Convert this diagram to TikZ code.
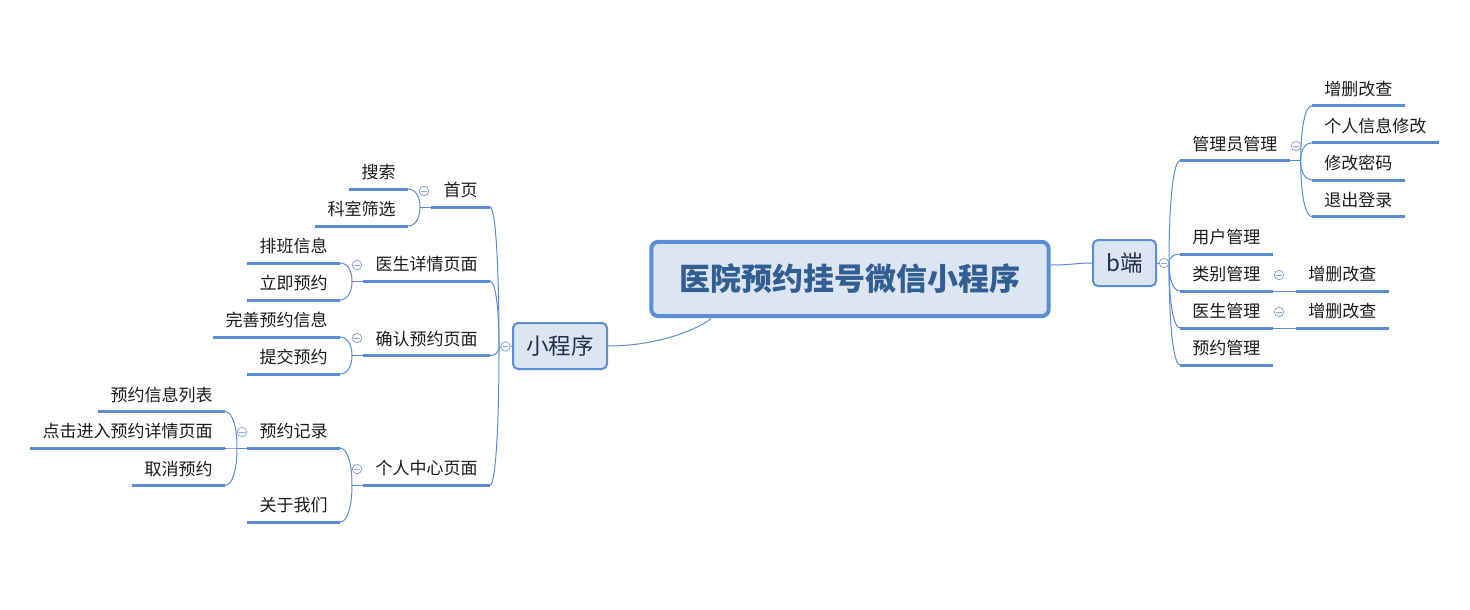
\documentclass[tikz,border=0pt]{standalone}
\usepackage{fontspec}
\setmainfont{Noto Sans CJK SC}
\usetikzlibrary{calc}
\definecolor{lineblue}{HTML}{5A8CD5}
\definecolor{boxfill}{HTML}{DCE6F2}
\definecolor{boxline}{HTML}{5B8ED3}
\definecolor{maintext}{HTML}{335E92}
\definecolor{subtext}{HTML}{1F2D45}
\definecolor{togc}{HTML}{8BA7D6}
\definecolor{topictext}{HTML}{1A1A1A}
\tikzset{
  topic/.style={font=\fontsize{17}{19}\selectfont, text=topictext, inner xsep=12.2pt, inner ysep=0pt, text height=14.5pt, text depth=10.3pt},
  uline/.style={draw=lineblue, line width=3pt},
  conn/.style={draw=lineblue, line width=1pt},
  branch/.style={to path={.. controls ($(\tikztostart)!0.6!(\tikztostart -| \tikztotarget)$) and ($(\tikztotarget)!0.6!(\tikztotarget |- \tikztostart)$) .. (\tikztotarget)}},
  togg/.style={circle, draw=togc, fill=white, line width=0.8pt, minimum size=9.5pt, inner sep=0pt,
    path picture={\draw[togc, line width=0.8pt] ([xshift=-2.6pt]path picture bounding box.center) -- ([xshift=2.6pt]path picture bounding box.center);}},
  mainbox/.style={draw=boxline, fill=boxfill, line width=4pt, rounded corners=7pt, minimum width=397.4pt, minimum height=74.3pt, inner sep=0pt, font=\fontsize{31}{35}\selectfont\bfseries, text=maintext},
  subbox/.style={draw=boxline, fill=boxfill, line width=2pt, rounded corners=5pt, minimum height=46pt, inner sep=0pt, font=\fontsize{22.5}{26}\selectfont, text=subtext}
}
\begin{document}
\begin{tikzpicture}[x=1pt,y=-1pt]
\useasboundingbox (0,0) rectangle (1470,610);
% main nodes
\node[mainbox] (main) at (850,279) {医院预约挂号微信小程序};
\node[subbox, minimum width=94pt] (xcx) at (560,346) {小程序};
\node[subbox, minimum width=63pt] (bd) at (1124.5,263) {b端};
% left level 2
\node[topic, anchor=south east] (sy) at (490,207) {首页};
\node[topic, anchor=south east] (ysxq) at (490,281) {医生详情页面};
\node[topic, anchor=south east] (qryy) at (490,355.5) {确认预约页面};
\node[topic, anchor=south east] (grzx) at (490,485) {个人中心页面};
% left level 3
\node[topic, anchor=south east] (ss) at (408,189) {搜索};
\node[topic, anchor=south east] (ks) at (408,226) {科室筛选};
\node[topic, anchor=south east] (pb) at (340,263) {排班信息};
\node[topic, anchor=south east] (lj) at (340,300) {立即预约};
\node[topic, anchor=south east] (ws) at (340,337) {完善预约信息};
\node[topic, anchor=south east] (tj) at (340,374) {提交预约};
\node[topic, anchor=south east] (yj) at (340,448) {预约记录};
\node[topic, anchor=south east] (gy) at (340,522) {关于我们};
% left level 4
\node[topic, anchor=south east] (yl) at (225,411.5) {预约信息列表};
\node[topic, anchor=south east] (dj) at (225,448) {点击进入预约详情页面};
\node[topic, anchor=south east] (qx) at (225,485.5) {取消预约};
% right level 2
\node[topic, anchor=south west] (gly) at (1180,160.7) {管理员管理};
\node[topic, anchor=south west] (yh) at (1180,254) {用户管理};
\node[topic, anchor=south west] (lb) at (1180,291) {类别管理};
\node[topic, anchor=south west] (ysgl) at (1180,328) {医生管理};
\node[topic, anchor=south west] (yygl) at (1180,365) {预约管理};
% right level 3
\node[topic, anchor=south west] (zs1) at (1312,105.7) {增删改查};
\node[topic, anchor=south west] (gr) at (1312,142.7) {个人信息修改};
\node[topic, anchor=south west] (xg) at (1312,180) {修改密码};
\node[topic, anchor=south west] (tc) at (1312,216.7) {退出登录};
\node[topic, anchor=south west] (zs2) at (1296,291) {增删改查};
\node[topic, anchor=south west] (zs3) at (1296,328) {增删改查};
% underlines
\foreach \n in {sy,ysxq,qryy,grzx,ss,ks,pb,lj,ws,tj,yj,gy,yl,dj,qx,gly,yh,lb,ysgl,yygl,zs1,gr,xg,tc,zs2,zs3}
  \draw[uline] (\n.south west) -- (\n.south east);
% junctions
\coordinate (J0) at (499,347);
\coordinate (j1) at (420,207);
\coordinate (j2) at (352,281);
\coordinate (j3) at (352,355.5);
\coordinate (j4) at (352,485);
\coordinate (j5) at (237,448);
\coordinate (JR) at (1169,263);
\coordinate (jg) at (1300.7,160.7);
\coordinate (mb) at (711,318.5);
\coordinate (me) at (1051,265);
% central connectors
\draw[conn] (xcx.east) .. controls (660,346) and (700,328) .. (mb);
\draw[conn] (me) .. controls (1072,265) and (1076,263) .. (bd.west);
% left connectors
\draw[conn] (J0) -- (xcx.west);
\foreach \n in {sy,ysxq,qryy,grzx} \draw[conn] (\n.south east) to[branch] (J0);
\foreach \n in {ss,ks} \draw[conn] (\n.south east) to[branch] (j1);
\draw[conn] (j1) -- (sy.south west);
\foreach \n in {pb,lj} \draw[conn] (\n.south east) to[branch] (j2);
\draw[conn] (j2) -- (ysxq.south west);
\foreach \n in {ws,tj} \draw[conn] (\n.south east) to[branch] (j3);
\draw[conn] (j3) -- (qryy.south west);
\foreach \n in {yj,gy} \draw[conn] (\n.south east) to[branch] (j4);
\draw[conn] (j4) -- (grzx.south west);
\foreach \n in {yl,dj,qx} \draw[conn] (\n.south east) to[branch] (j5);
\draw[conn] (j5) -- (yj.south west);
% right connectors
\draw[conn] (bd.east) -- (JR);
\foreach \n in {gly,yh,lb,ysgl,yygl} \draw[conn] (\n.south west) to[branch] (JR);
\draw[conn] (gly.south east) -- (jg);
\foreach \n in {zs1,gr,xg,tc} \draw[conn] (\n.south west) to[branch] (jg);
\draw[conn] (lb.south east) -- (zs2.south west);
\draw[conn] (ysgl.south east) -- (zs3.south west);
% toggles
\node[togg] (t0) at (505.5,346.5) {};
\node[togg] (t1) at (424,191) {};
\node[togg] (t2) at (357,265) {};
\node[togg] (t3) at (357,338) {};
\node[togg] (t4) at (357,469) {};
\node[togg] (t5) at (242,432) {};
\node[togg] (tR) at (1164,263) {};
\node[togg] (tg) at (1296,146) {};
\node[togg] (tl) at (1279,275) {};
\node[togg] (ty) at (1279,312) {};
\end{tikzpicture}
\end{document}
